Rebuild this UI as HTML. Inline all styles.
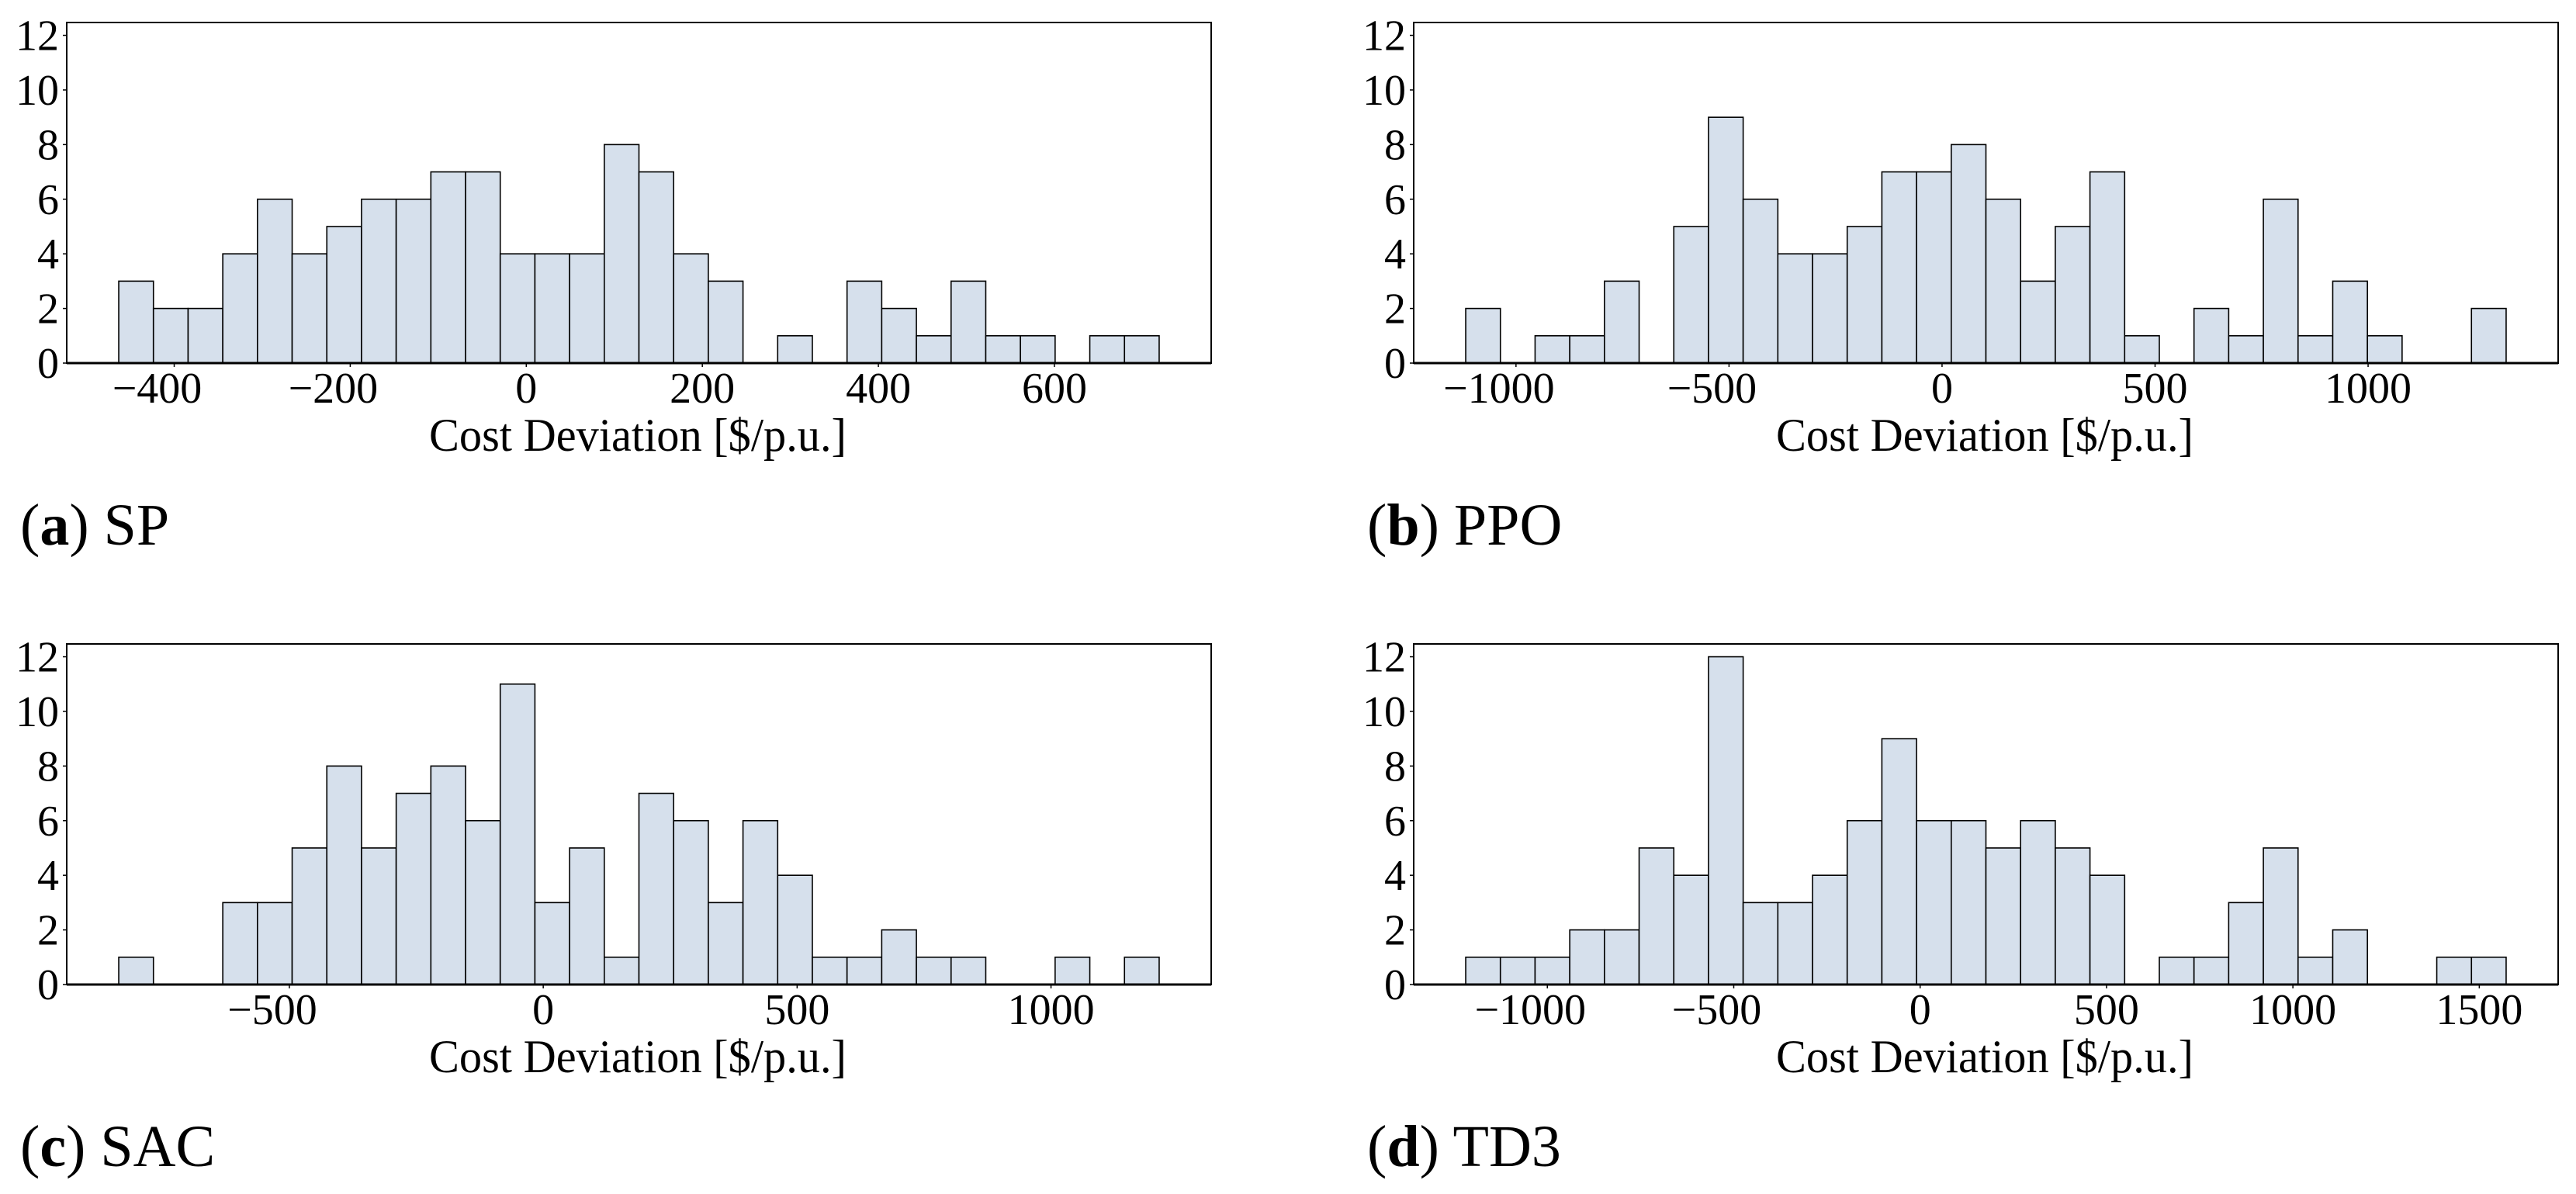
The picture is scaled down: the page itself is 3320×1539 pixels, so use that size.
<!DOCTYPE html>
<html><head><meta charset="utf-8"><title>Cost deviation histograms</title>
<style>
html,body{margin:0;padding:0;background:#fff;}
svg{display:block;}
text{font-family:"Liberation Serif",serif;fill:#000;}
</style></head>
<body>
<svg id="fig" width="3320" height="1539" viewBox="0 0 3320 1539" xmlns="http://www.w3.org/2000/svg"></svg>
<script>
// ---- data ----
const countsSP  = [3,2,2,4,6,4,5,6,6,7,7,4,4,4,8,7,4,3,0,1,0,3,2,1,3,1,1,0,1,1];
const countsPPO = [2,0,1,1,3,0,5,9,6,4,4,5,7,7,8,6,3,5,7,1,0,2,1,6,1,3,1,0,0,2];
const countsSAC = [1,0,0,3,3,5,8,5,7,8,6,11,3,5,1,7,6,3,6,4,1,1,2,1,1,0,0,1,0,1];
const countsTD3 = [1,1,1,2,2,5,4,12,3,3,4,6,9,6,6,5,6,5,4,0,1,1,3,5,1,2,0,0,1,1];
const binRangeSP  = [-463, 719];
const binRangePPO = [-1118, 1324];
const binRangeSAC = [-836, 1213];
const binRangeTD3 = [-1219, 1572];
const xTicksSP  = [-400,-200,0,200,400,600];
const xTicksPPO = [-1000,-500,0,500,1000];
const xTicksSAC = [-500,0,500,1000];
const xTicksTD3 = [-1000,-500,0,500,1000,1500];
const yTicks = [0,2,4,6,8,10,12];
const captionLetters = ['a','b','c','d'];
const captionNames = ['SP','PPO','SAC','TD3'];

const NS='http://www.w3.org/2000/svg';
const svg=document.getElementById('fig');
function mk(tag,attrs,parent){const e=document.createElementNS(NS,tag);for(const k in attrs)e.setAttribute(k,attrs[k]);(parent||svg).appendChild(e);return e;}

const YMAX=12.47;
const panels=[
 {counts:countsSP,range:binRangeSP,ticks:xTicksSP,left:86,top:29,name:'sp'},
 {counts:countsPPO,range:binRangePPO,ticks:xTicksPPO,left:1822,top:29,name:'ppo'},
 {counts:countsSAC,range:binRangeSAC,ticks:xTicksSAC,left:86,top:830,name:'sac'},
 {counts:countsTD3,range:binRangeTD3,ticks:xTicksTD3,left:1822,top:830,name:'td3'}
];
const W=1475,H=439;
function fmt(v){return v<0?'\u2212'+Math.abs(v):String(v);}

panels.forEach((p,pi)=>{
  const g=mk('g',{});
  
  
  const R=p.range[1]-p.range[0];
  const xmin=p.range[0]-0.05*R, xmax=p.range[1]+0.05*R;
  const bottom=p.top+H;
  const xs=v=>p.left+(v-xmin)/(xmax-xmin)*W;
  const ys=v=>bottom-v/YMAX*H;
  const n=p.counts.length, bw=R/n;
  p.counts.forEach((c,i)=>{
    if(c<=0)return;
    const x0=xs(p.range[0]+i*bw), x1=xs(p.range[0]+(i+1)*bw);
    const r=mk('rect',{x:x0,y:ys(c),width:x1-x0,height:bottom-ys(c),fill:'#d6e0ec',stroke:'#000','stroke-width':1.6},g);
    
    
  });
  const frame=mk('rect',{x:p.left,y:p.top,width:W,height:H,fill:'none',stroke:'#000','stroke-width':2},g);
  
  
  mk('line',{x1:p.left,x2:p.left+W,y1:bottom,y2:bottom,stroke:'#000','stroke-width':3},g);
  // y ticks
  const yg=mk('g',{},g);
  
  
  yTicks.forEach(t=>{
    const y=ys(t);
    mk('line',{x1:p.left-5,x2:p.left,y1:y,y2:y,stroke:'#000','stroke-width':1.5},yg);
    const tx=mk('text',{x:p.left-10,y:y+19,'font-size':56,'text-anchor':'end'},yg);
    tx.textContent=String(t);
    
    
  });
  // x ticks
  const xg=mk('g',{},g);
  
  
  p.ticks.forEach(t=>{
    const x=xs(t);
    mk('line',{x1:x,x2:x,y1:bottom,y2:bottom+5,stroke:'#000','stroke-width':1.5},xg);
    const tx=mk('text',{x:x-(t<0?22:0),y:bottom+51,'font-size':56,'text-anchor':'middle'},xg);
    tx.textContent=fmt(t);
    
    
  });
  const xl=mk('text',{x:p.left+467,y:bottom+113,'font-size':60,textLength:538,lengthAdjust:'spacingAndGlyphs'},g);
  xl.textContent='Cost Deviation [$/p.u.]';
  
  
  const cap=mk('text',{x:p.left-60,y:p.top+673,'font-size':76},g);
  
  
  const t1=mk('tspan',{},cap);t1.textContent='(';
  const t2=mk('tspan',{'font-weight':'bold'},cap);t2.textContent=captionLetters[pi];
  const t3=mk('tspan',{},cap);t3.textContent=') '+captionNames[pi];
});
</script>
</body></html>
